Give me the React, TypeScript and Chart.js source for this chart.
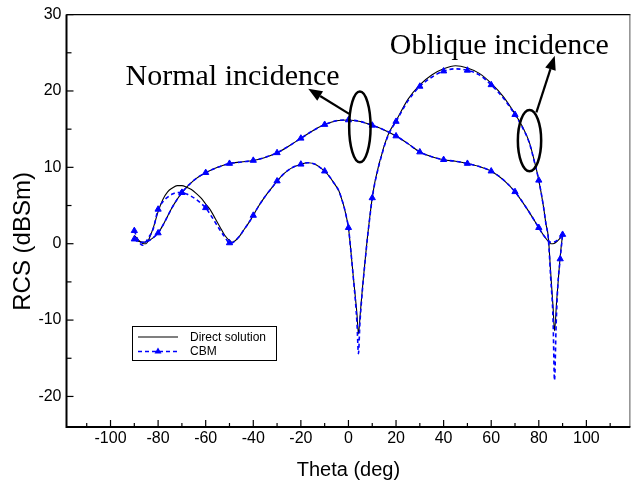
import React, { useEffect, useRef } from "react";
import { Chart, registerables } from "chart.js";

Chart.register(...registerables);

// ---- axis ticks ----
const xTickValues = [-100, -80, -60, -40, -20, 0, 20, 40, 60, 80, 100];
const yTickValues = [-20, -10, 0, 10, 20, 30];

// ---- Normal incidence ----
const normalTheta = [-90, -88, -86, -84, -82, -80, -78, -76, -74, -72, -70, -65, -60, -55, -50, -45, -40, -35, -30, -25, -20, -15, -10, -5, 0, 5, 10, 15, 20, 25, 30, 35, 40, 45, 50, 55, 60, 65, 70, 75, 80, 82, 84, 85, 86, 88, 90];
const normalDirect = [0.6, 0.3, 0.2, 0.4, 0.8, 1.4, 2.4, 3.6, 4.8, 5.8, 6.7, 8.3, 9.3, 10.0, 10.5, 10.7, 10.9, 11.3, 11.9, 12.8, 13.8, 14.8, 15.6, 16.1, 16.2, 16.0, 15.5, 14.9, 14.1, 13.1, 12.0, 11.4, 11.0, 10.8, 10.5, 10.1, 9.5, 8.4, 6.8, 4.6, 2.1, 1.1, 0.3, 0.0, 0.0, 0.4, 1.1];
const normalCBM = [0.6, 0.2, 0.2, 0.4, 0.8, 1.4, 2.4, 3.6, 4.8, 5.8, 6.7, 8.3, 9.3, 10.0, 10.5, 10.7, 10.9, 11.3, 11.9, 12.8, 13.8, 14.8, 15.6, 16.1, 16.2, 16.0, 15.5, 14.9, 14.1, 13.1, 12.0, 11.4, 11.0, 10.8, 10.5, 10.1, 9.5, 8.4, 6.8, 4.6, 2.1, 1.1, 0.4, 0.2, 0.2, 0.5, 1.2];
const normalMarks = [-90, -80, -70, -60, -50, -40, -30, -20, -10, 0, 10, 20, 30, 40, 50, 60, 70, 80, 90];

// ---- Oblique incidence ----
const obliqueDirectTheta = [-90, -88, -86, -85, -84, -82, -80, -78, -76, -74, -72, -70, -68, -66, -64, -62, -60, -58, -56, -54, -52, -50, -49, -48, -46, -44, -42, -40, -38, -35, -32, -30, -27, -24, -20, -17, -14, -12, -10, -8, -6, -4, -3, -2, -1, 0, 1, 2, 3, 3.6, 4.2, 5, 6, 7, 8, 9, 10, 11, 12, 13, 14, 15, 17, 20, 25, 30, 35, 40, 45, 50, 55, 60, 65, 70, 73, 76, 78, 80, 82, 83, 84, 85, 86, 86.6, 87.5, 88.4, 89.2, 90];
const obliqueDirect = [1.1, 0.4, 0.0, 0.0, 0.5, 2.1, 4.2, 5.8, 6.8, 7.3, 7.6, 7.6, 7.4, 7.1, 6.6, 6.0, 5.2, 4.4, 3.3, 2.2, 1.1, 0.4, 0.2, 0.3, 0.9, 1.8, 2.7, 3.7, 4.8, 6.2, 7.4, 8.2, 9.2, 9.9, 10.4, 10.6, 10.4, 10.0, 9.5, 8.8, 7.9, 6.9, 6.0, 5.0, 3.7, 2.1, -0.9, -4.2, -7.3, -9.3, -11.8, -9.0, -5.4, -2.2, 0.9, 3.6, 6.0, 7.9, 9.3, 10.6, 11.7, 12.8, 14.5, 16.1, 18.9, 20.8, 22.1, 22.9, 23.3, 23.0, 22.3, 21.0, 19.3, 17.0, 15.4, 13.3, 11.0, 8.3, 4.8, 2.6, 0.9, -3.8, -8.3, -11.4, -7.5, -3.9, -1.0, 1.2];

const obliqueCBMTheta = [-90, -88, -86.5, -85, -84, -82, -80, -78, -76, -74, -72, -70, -68, -66, -64, -62, -60, -58, -56, -54, -52, -50, -49, -48, -46, -44, -42, -40, -38, -35, -32, -30, -27, -24, -20, -17, -14, -12, -10, -8, -6, -4, -3, -2, -1, 0, 1, 2, 3, 3.6, 4.2, 4.8, 5.5, 6, 7, 8, 9, 10, 11, 12, 13, 14, 15, 17, 20, 25, 30, 35, 40, 45, 50, 55, 60, 65, 70, 73, 76, 78, 80, 82, 83, 84, 85, 86, 86.6, 87.3, 88, 89, 90];
const obliqueCBM = [1.7, 0.2, -0.2, 0.3, 0.8, 2.0, 4.5, 5.5, 6.1, 6.5, 6.7, 6.7, 6.5, 6.2, 5.8, 5.3, 4.7, 3.8, 2.8, 1.8, 0.9, 0.1, 0.1, 0.3, 0.9, 1.8, 2.7, 3.7, 4.8, 6.2, 7.4, 8.2, 9.2, 9.9, 10.4, 10.6, 10.4, 10.0, 9.5, 8.8, 7.9, 6.9, 6.0, 5.0, 3.7, 2.1, -0.9, -4.3, -7.8, -10.5, -14.4, -10.5, -7.5, -5.6, -2.3, 0.8, 3.5, 6.0, 7.8, 9.2, 10.5, 11.6, 12.7, 14.4, 16.0, 18.7, 20.6, 21.8, 22.6, 22.9, 22.7, 22.1, 20.8, 19.1, 16.9, 15.3, 13.2, 10.9, 8.3, 4.8, 2.6, 0.7, -4.5, -10.0, -17.9, -10.5, -5.5, -2.0, 1.2];
const obliqueMarks = [-90, -80, -70, -60, -50, -40, -30, -20, -10, 0, 10, 20, 30, 40, 50, 60, 70, 80, 89];

const BLUE = "#0000ff";
const SANS = '"Liberation Sans", Arial, sans-serif';
const SERIF = '"Liberation Serif", "Times New Roman", serif';

function drawArrow(ctx: CanvasRenderingContext2D, x1: number, y1: number, x2: number, y2: number) {
  const ang = Math.atan2(y2 - y1, x2 - x1);
  const L = 14, W = 5.5;
  const bx = x2 - L * Math.cos(ang), by = y2 - L * Math.sin(ang);
  ctx.beginPath();
  ctx.moveTo(x1, y1);
  ctx.lineTo(bx, by);
  ctx.stroke();
  ctx.beginPath();
  ctx.moveTo(x2, y2);
  ctx.lineTo(bx + W * Math.sin(ang), by - W * Math.cos(ang));
  ctx.lineTo(bx - W * Math.sin(ang), by + W * Math.cos(ang));
  ctx.closePath();
  ctx.fill();
}

const framePlugin = {
  id: "frameAndAnnotations",
  afterDraw(chart: any) {
    const { ctx, chartArea: a, scales } = chart;
    const x = scales.x, y = scales.y;
    ctx.save();
    // frame
    ctx.strokeStyle = "#000";
    ctx.lineWidth = 1.2;
    ctx.beginPath();
    ctx.moveTo(a.left, a.top);
    ctx.lineTo(a.right, a.top);
    ctx.stroke();
    ctx.strokeStyle = "#555";
    ctx.lineWidth = 1;
    ctx.beginPath();
    ctx.moveTo(a.right - 0.5, a.top);
    ctx.lineTo(a.right - 0.5, a.bottom);
    ctx.stroke();
    ctx.strokeStyle = "#000";
    ctx.lineWidth = 2;
    ctx.beginPath();
    ctx.moveTo(a.left, a.top);
    ctx.lineTo(a.left, a.bottom);
    ctx.lineTo(a.right, a.bottom);
    ctx.stroke();
    // inward ticks
    ctx.lineWidth = 1.2;
    for (let v = -110; v <= 110; v += 10) {
      const px = x.getPixelForValue(v);
      const len = v % 20 === 0 ? 7 : 4;
      ctx.beginPath();
      ctx.moveTo(px, a.bottom);
      ctx.lineTo(px, a.bottom - len);
      ctx.stroke();
    }
    for (let v = -20; v <= 30; v += 5) {
      const py = y.getPixelForValue(v);
      const len = v % 10 === 0 ? 7 : 5;
      ctx.beginPath();
      ctx.moveTo(a.left, py);
      ctx.lineTo(a.left + len, py);
      ctx.stroke();
    }

    // y-axis title
    ctx.save();
    ctx.translate(23, y.getPixelForValue(0.3));
    ctx.rotate(-Math.PI / 2);
    ctx.fillStyle = "#000";
    ctx.font = "24px " + SANS;
    ctx.textAlign = "center";
    ctx.textBaseline = "middle";
    ctx.fillText("RCS (dBSm)", 0, 0);
    ctx.restore();

    // annotations (positions in data units)
    const X = (t: number) => x.getPixelForValue(t);
    const Y = (v: number) => y.getPixelForValue(v);
    const pxPerDeg = Math.abs(X(1) - X(0));
    const pxPerDb = Math.abs(Y(1) - Y(0));
    ctx.fillStyle = "#000";
    ctx.font = "30px " + SERIF;
    ctx.textBaseline = "alphabetic";
    ctx.textAlign = "left";
    ctx.fillText("Normal incidence", X(-93.7), Y(20.8));
    ctx.fillText("Oblique incidence", X(17.4), Y(24.9));

    ctx.lineWidth = 2.5;
    ctx.beginPath();
    ctx.ellipse(X(4.8), Y(15.3), 4.5 * pxPerDeg, 4.64 * pxPerDb, 0, 0, Math.PI * 2);
    ctx.stroke();
    ctx.beginPath();
    ctx.ellipse(X(76.1), Y(13.5), 4.9 * pxPerDeg, 4.0 * pxPerDb, 0, 0, Math.PI * 2);
    ctx.stroke();
    ctx.lineWidth = 2.2;
    drawArrow(ctx, X(0.3), Y(17.0), X(-16.9), Y(20.3));
    drawArrow(ctx, X(79.0), Y(17.2), X(86.7), Y(24.6));

    // legend box
    const lx = 132, ly = 326, lw = 144, lh = 34;
    ctx.fillStyle = "#fff";
    ctx.fillRect(lx, ly, lw, lh);
    ctx.strokeStyle = "#000";
    ctx.lineWidth = 1;
    ctx.strokeRect(lx + 0.5, ly + 0.5, lw, lh);
    const r1 = ly + 11, r2 = ly + 25.5;
    ctx.lineWidth = 1.2;
    ctx.beginPath();
    ctx.moveTo(138, r1);
    ctx.lineTo(178, r1);
    ctx.stroke();
    ctx.strokeStyle = BLUE;
    ctx.lineWidth = 1.6;
    ctx.setLineDash([4, 3]);
    ctx.beginPath();
    ctx.moveTo(138, r2);
    ctx.lineTo(178, r2);
    ctx.stroke();
    ctx.setLineDash([]);
    ctx.fillStyle = BLUE;
    ctx.beginPath();
    ctx.moveTo(158, r2 - 4);
    ctx.lineTo(161.5, r2 + 2);
    ctx.lineTo(154.5, r2 + 2);
    ctx.closePath();
    ctx.fill();
    ctx.fillStyle = "#000";
    ctx.font = "12px " + SANS;
    ctx.textBaseline = "middle";
    ctx.fillText("Direct solution", 190, r1 + 0.5);
    ctx.fillText("CBM", 190, r2 + 0.5);
    ctx.restore();
  },
};

export default function App() {
  const ref = useRef<HTMLCanvasElement>(null);
  useEffect(() => {
    document.body.style.margin = "0";
    const canvas = ref.current!;
    const mk = (th: number[], vals: number[]) => th.map((t, i) => ({ x: t, y: vals[i] }));
    const markerRadius = (marks: number[]) => (c: any) => {
      const r = c.raw;
      return r && marks.includes(r.x) ? 3.6 : 0;
    };
    const cbmStyle = (marks: number[]) => ({
      borderColor: BLUE,
      backgroundColor: BLUE,
      borderWidth: 1.6,
      borderDash: [4, 3],
      pointStyle: "triangle" as const,
      pointRadius: markerRadius(marks),
      pointHoverRadius: 0,
      pointBackgroundColor: BLUE,
      pointBorderColor: BLUE,
      pointBorderWidth: 1,
      cubicInterpolationMode: "monotone" as const,
      fill: false,
    });
    const directStyle = {
      borderColor: "#000",
      backgroundColor: "#000",
      borderWidth: 1.1,
      pointRadius: 0,
      pointHoverRadius: 0,
      cubicInterpolationMode: "monotone" as const,
      fill: false,
    };
    const chart = new Chart(canvas, {
      type: "line",
      data: {
        datasets: [
          { label: "CBM", data: mk(normalTheta, normalCBM), ...cbmStyle(normalMarks) },
          { label: "CBM", data: mk(obliqueCBMTheta, obliqueCBM), ...cbmStyle(obliqueMarks) },
          { label: "Direct solution", data: mk(normalTheta, normalDirect), ...directStyle },
          { label: "Direct solution", data: mk(obliqueDirectTheta, obliqueDirect), ...directStyle },
        ],
      },
      options: {
        responsive: false,
        animation: false,
        devicePixelRatio: 1,
        events: [],
        layout: { padding: { top: 13.3, right: 3, left: 0, bottom: 0 } },
        plugins: { legend: { display: false }, tooltip: { enabled: false } },
        scales: {
          x: {
            type: "linear",
            min: -118.5,
            max: 118.5,
            grid: { display: false, drawTicks: false },
            border: { display: false },
            afterBuildTicks: (s: any) => {
              s.ticks = xTickValues.map((v) => ({ value: v }));
            },
            afterFit: (s: any) => {
              s.height = 60;
            },
            ticks: { font: { family: SANS, size: 16 }, color: "#000", padding: 2, maxRotation: 0, autoSkip: false },
            title: {
              display: true,
              text: "Theta (deg)",
              color: "#000",
              font: { family: SANS, size: 20 },
              padding: { top: 0, bottom: 5 },
            },
          },
          y: {
            type: "linear",
            min: -24,
            max: 30,
            grid: { display: false, drawTicks: false },
            border: { display: false },
            afterBuildTicks: (s: any) => {
              s.ticks = yTickValues.map((v) => ({ value: v }));
            },
            afterFit: (s: any) => {
              s.width = 66.5;
            },
            ticks: { font: { family: SANS, size: 16 }, color: "#000", padding: 5, autoSkip: false },
            title: { display: false },
          },
        },
      },
      plugins: [framePlugin],
    });
    return () => chart.destroy();
  }, []);
  return (
    <div style={{ position: "absolute", left: 0, top: 0, width: 635, height: 487, background: "#fff" }}>
      <canvas ref={ref} width={635} height={487} style={{ display: "block", width: 635, height: 487 }} />
    </div>
  );
}
